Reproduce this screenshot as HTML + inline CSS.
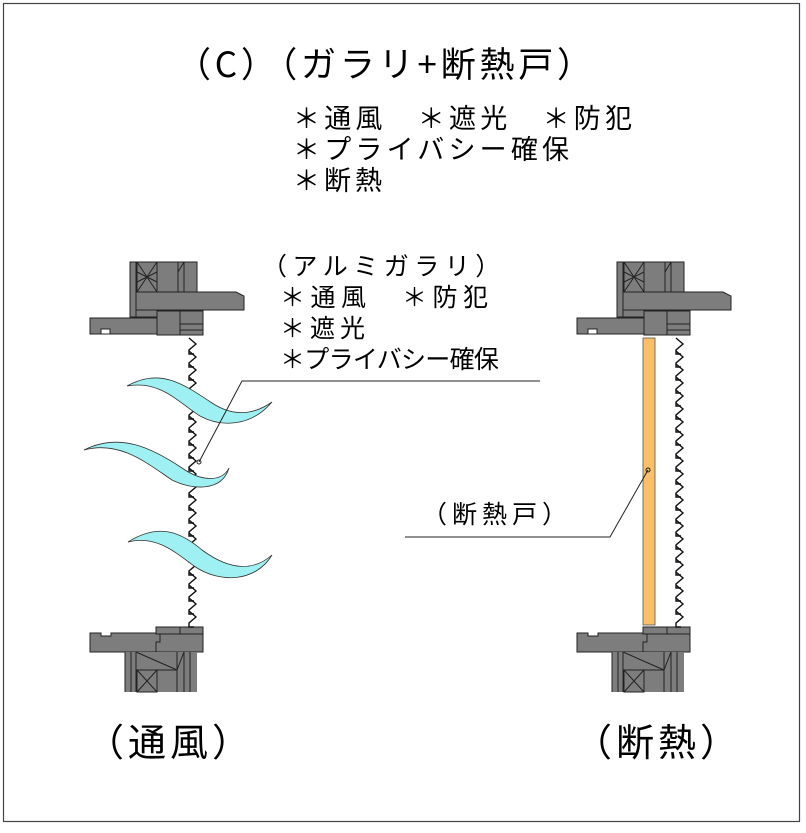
<!DOCTYPE html>
<html><head><meta charset="utf-8"><style>
html,body{margin:0;padding:0;background:#fff;}
svg{display:block;position:absolute;left:0;top:0;}
.t{position:absolute;white-space:nowrap;font-family:"Noto Sans CJK JP","Liberation Sans",sans-serif;color:#000;line-height:1;}
</style></head><body>
<svg width="806" height="833" viewBox="0 0 806 833" xmlns="http://www.w3.org/2000/svg">
<rect x="3.5" y="3.5" width="796" height="818" fill="#fff" stroke="#444" stroke-width="1.2"/>
<defs>
<g id="top">
 <rect x="130" y="262" width="67" height="55" fill="#7d7d7d" stroke="#222"/>
 <line x1="136" y1="262" x2="136" y2="317" stroke="#222"/>
 <rect x="137" y="262" width="20" height="30" fill="none" stroke="#222"/>
 <path d="M137 262 L157 292 M157 262 L137 292 M137 272 L157 282 M157 272 L137 282" stroke="#222" fill="none"/>
 <line x1="178" y1="262" x2="178" y2="317" stroke="#222"/>
 <line x1="184" y1="262" x2="184" y2="292" stroke="#222"/>
 <path d="M178 272 L184 262" stroke="#222"/>
 <path d="M136 292 L236 292 L244 296 L244 310 L136 310 Z" fill="#7d7d7d" stroke="#222"/>
 <path d="M90 318 L157 318 L157 324 L165 324 L165 333 L157 333 L157 334 L90 334 Z M101 329 L101 334 L110 334 L110 329 Z" fill="#7d7d7d" stroke="#222"/>
 <rect x="157" y="311" width="46" height="24" fill="#7d7d7d" stroke="#222"/>
 <line x1="180" y1="311" x2="180" y2="335" stroke="#222"/>
 <line x1="180" y1="324" x2="203" y2="324" stroke="#222"/>
 <line x1="180" y1="330" x2="203" y2="330" stroke="#222"/>
 <rect x="156" y="627" width="47" height="7" fill="#7d7d7d" stroke="#222"/>
 <line x1="180" y1="627" x2="180" y2="634" stroke="#222"/>
 <path d="M90 633 L101 633 L101 636 L111 636 L111 633 L156 633 L156 634 L203 634 L203 652 L90 652 Z" fill="#7d7d7d" stroke="#222"/>
 <path d="M156 634 L160 634 L160 642 L156 642 L156 652" fill="none" stroke="#222"/>
 <rect x="125" y="652" width="72" height="40" fill="#7d7d7d" stroke="none"/>
 <path d="M125 652 V692 M131 652 V692 M136 652 V692 M177 652 V692 M184 652 V692 M190 652 V692 M136 670 H177 M136 652 L177 670 M177 670 L184 652" stroke="#222" fill="none"/>
 <rect x="137" y="670" width="20" height="22" fill="none" stroke="#222"/>
 <path d="M137 670 L157 692 M157 670 L137 692" stroke="#222"/>
</g>
<path id="z" d="M1 0 l7 6 l-7 6 v4 h5" fill="none" stroke="#111" stroke-width="1.4"/>
</defs>
<use href="#top"/>
<use href="#top" transform="translate(487,0)"/>
<g transform="translate(188,338)">
 <g id="lv">
  <use href="#z" y="0"/><use href="#z" y="13"/><use href="#z" y="26"/><use href="#z" y="39"/><use href="#z" y="52"/><use href="#z" y="65"/><use href="#z" y="78"/><use href="#z" y="91"/><use href="#z" y="104"/><use href="#z" y="117"/><use href="#z" y="130"/><use href="#z" y="143"/><use href="#z" y="156"/><use href="#z" y="169"/><use href="#z" y="182"/><use href="#z" y="195"/><use href="#z" y="208"/><use href="#z" y="221"/><use href="#z" y="234"/><use href="#z" y="247"/><use href="#z" y="260"/><use href="#z" y="273"/>
 </g>
</g>
<use href="#lv" transform="translate(675,338)"/>
<rect x="643" y="338" width="12" height="287" fill="#fbbf67" stroke="#555" stroke-width="0.8"/>
<g fill="#9ef0f2" stroke="#333" stroke-width="0.8">
 <path d="M127 386 C160 368 182 383 212 403 C232 416 252 416 272 402 C252 426 222 428 200 416 C178 402 160 380 127 386 Z"/>
 <path d="M84 450 C120 432 152 448 182 468 C202 482 222 482 229 468 C222 492 192 490 172 480 C148 464 120 440 84 450 Z"/>
 <path d="M128 542 C160 522 182 533 202 550 C232 572 255 570 272 555 C256 582 220 584 194 566 C174 551 155 535 128 542 Z"/>
</g>
<path d="M540 381 H242 L199 462" fill="none" stroke="#222"/>
<circle cx="199" cy="462" r="2" fill="none" stroke="#222"/>
<path d="M405 537 H610 L648 470" fill="none" stroke="#222"/>
<circle cx="648" cy="470" r="2" fill="none" stroke="#222"/>
</svg>
<div class="t" style="left:176px;top:45px;font-size:35px;letter-spacing:3.8px;">（C）（ガラリ+断熱戸）</div>
<div class="t" style="left:293px;top:103px;font-size:27px;letter-spacing:4.2px;">＊通風　＊遮光　＊防犯</div>
<div class="t" style="left:293px;top:134px;font-size:27px;letter-spacing:4.2px;">＊プライバシー確保</div>
<div class="t" style="left:293px;top:165px;font-size:27px;letter-spacing:4px;">＊断熱</div>
<div class="t" style="left:262px;top:253px;font-size:25px;letter-spacing:5.5px;">（アルミガラリ）</div>
<div class="t" style="left:280px;top:284px;font-size:25px;letter-spacing:5.5px;">＊通風　＊防犯</div>
<div class="t" style="left:280px;top:315px;font-size:25px;letter-spacing:5px;">＊遮光</div>
<div class="t" style="left:280px;top:346px;font-size:25px;letter-spacing:-0.7px;">＊プライバシー確保</div>
<div class="t" style="left:422px;top:501px;font-size:25px;letter-spacing:5px;">（断熱戸）</div>
<div class="t" style="left:86px;top:721px;font-size:38px;letter-spacing:4px;">（通風）</div>
<div class="t" style="left:574px;top:721px;font-size:38px;letter-spacing:4px;">（断熱）</div>
</body></html>
